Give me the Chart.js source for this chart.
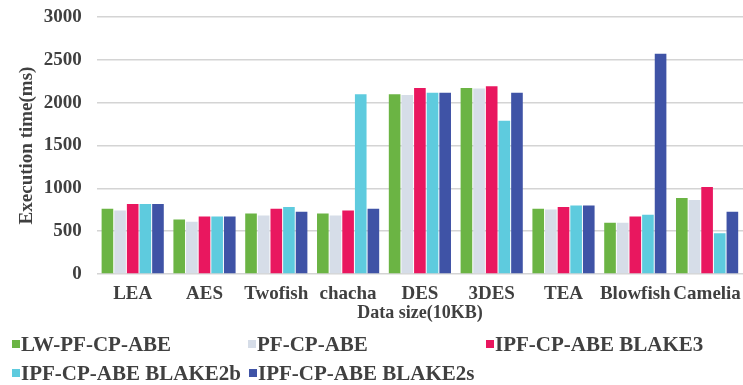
<!DOCTYPE html>
<html>
<head>
<meta charset="utf-8">
<script src="https://cdn.jsdelivr.net/npm/chart.js@4"></script>
<style>
    html, body { margin: 0; padding: 0; background: #ffffff; }
    #Wrap { position: relative; width: 743px; height: 385px; overflow: hidden; }
    #Legend { position: absolute; left: 0; top: 0; width: 743px; height: 385px; pointer-events: none; }
    .LegendItem
    {
        position: absolute;
        font-family: "Liberation Serif", "Times New Roman", serif;
        font-weight: bold;
        font-size: 21px;
        line-height: 21px;
        color: #404040;
        white-space: nowrap;
    }
    .LegendBox { display: inline-block; width: 8px; height: 8px; margin-right: 1px; vertical-align: 3px; }
</style>
</head>
<body>
<div id="Wrap">
    <canvas id="ChartCanvas" width="743" height="385"></canvas>
    <div id="Legend"></div>
</div>
<script>
// Categories (x axis) and the five series
const algorithms = ['LEA', 'AES', 'Twofish', 'chacha', 'DES', '3DES', 'TEA', 'Blowfish', 'Camelia'];

const lwPfCpAbe   = [762, 637, 707, 707, 2098, 2172, 762, 598, 887];
const pfCpAbe     = [742, 609, 684, 684, 2090, 2164, 754, 598, 863];
const ipfBlake3   = [816, 672, 762, 742, 2172, 2191, 781, 672, 1016];
const ipfBlake2b  = [816, 672, 781, 2098, 2117, 1789, 801, 691, 477];
const ipfBlake2s  = [816, 672, 727, 762, 2117, 2117, 801, 2570, 727];

const seriesNames = ['LW-PF-CP-ABE', 'PF-CP-ABE', 'IPF-CP-ABE BLAKE3', 'IPF-CP-ABE BLAKE2b', 'IPF-CP-ABE BLAKE2s'];
const yTicks = [0, 500, 1000, 1500, 2000, 2500, 3000];

const colors = ['#6bb444', '#d6dde8', '#e9175f', '#5ecbde', '#3f53a6'];

// Legend placement (left edge of box, row centre), Excel style layout
const legendSlots = [[12, 345], [248, 345], [486, 345], [12, 374], [249, 374]];

const FONT = '"Liberation Serif", "Times New Roman", serif';
const TEXT = '#404040';
const CLEAR = 'rgba(0,0,0,0)';

class ExecutionTimeChart
{
    constructor()
    {
        this.ChartData();
        this.BuildLegend();
    }

    ChartData()
    {
        const ctx = document.getElementById('ChartCanvas');
        const values = [lwPfCpAbe, pfCpAbe, ipfBlake3, ipfBlake2b, ipfBlake2s];

        const datasets = values.map((v, i) =>
        {
            return {
                label: seriesNames[i],
                data: v,
                backgroundColor: colors[i],
                borderWidth: 0,
                categoryPercentage: 0.88,
                barPercentage: 0.92
            };
        });

        new Chart(ctx,
        {
            type: 'bar',
            data:
            {
                labels: algorithms,
                datasets: datasets
            },
            options:
            {
                responsive: false,
                animation: false,
                layout: { padding: { left: 11, right: 0, top: 17, bottom: 63 } },
                plugins:
                {
                    legend: { display: false },
                    tooltip: { enabled: false }
                },
                scales:
                {
                    x:
                    {
                        // invisible ticks give the vertical gap without side padding
                        grid: { color: CLEAR, tickColor: CLEAR, drawTicks: true, tickLength: 11 },
                        border: { display: false },
                        ticks:
                        {
                            padding: 0,
                            color: TEXT,
                            maxRotation: 0,
                            autoSkip: false,
                            font: { family: FONT, size: 19, weight: 'bold', lineHeight: 1 }
                        },
                        title:
                        {
                            display: true,
                            text: 'Data size(10KB)',
                            color: TEXT,
                            padding: 0,
                            font: { family: FONT, size: 18, weight: 'bold', lineHeight: 1 }
                        }
                    },
                    y:
                    {
                        min: 0,
                        max: 3000,
                        afterBuildTicks: axis => { axis.ticks = yTicks.map(v => ({ value: v })); },
                        grid: { color: '#d4d4d4', lineWidth: 1.5, tickColor: CLEAR, drawTicks: true, tickLength: 15 },
                        border: { display: false },
                        ticks:
                        {
                            padding: 0,
                            color: TEXT,
                            callback: v => String(v),
                            font: { family: FONT, size: 19, weight: 'bold' }
                        },
                        title:
                        {
                            display: true,
                            text: 'Execution time(ms)',
                            color: TEXT,
                            padding: { top: 5, bottom: 5 },
                            font: { family: FONT, size: 19, weight: 'bold' }
                        }
                    }
                }
            }
        });
    }

    BuildLegend()
    {
        const host = document.getElementById('Legend');
        seriesNames.forEach((name, i) =>
        {
            const item = document.createElement('div');
            item.className = 'LegendItem';
            item.style.left = legendSlots[i][0] + 'px';
            item.style.top = (legendSlots[i][1] - 11) + 'px';

            const box = document.createElement('span');
            box.className = 'LegendBox';
            box.style.background = colors[i];
            item.appendChild(box);
            item.appendChild(document.createTextNode(name));
            host.appendChild(item);
        });
    }
}

new ExecutionTimeChart();
</script>
</body>
</html>
